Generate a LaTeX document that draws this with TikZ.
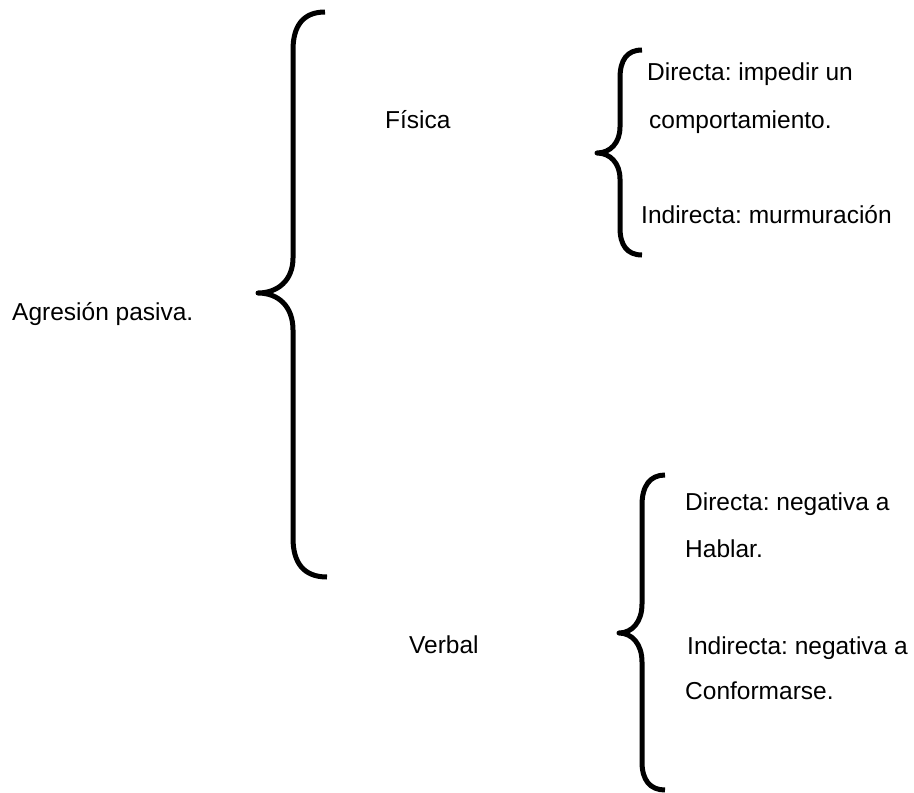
\documentclass[tikz,border=0pt]{standalone}
\usepackage{fontspec}
\setmainfont{Liberation Sans}
\frenchspacing
\begin{document}
\begin{tikzpicture}[x=1pt,y=-1pt,
  lbl/.style={anchor=base west,inner sep=0pt,font=\fontsize{24.5}{30}\selectfont\frenchspacing},
  bracepath/.style={line width=5pt,line join=round}]
\useasboundingbox (0,0) rectangle (914,793);
% main brace
\draw[bracepath] (325,12) .. controls (303,12) and (293,26) .. (293,50)
  -- (293,258) .. controls (293,280) and (278,293) .. (258,293)
  .. controls (278,293) and (293,306) .. (293,330)
  -- (293,538) .. controls (293,562) and (303,577) .. (327,577);
% upper small brace
\draw[bracepath] (642,50) .. controls (627,50) and (620,60) .. (620,78)
  -- (620,127) .. controls (620,143) and (610,153) .. (597,153)
  .. controls (610,153) and (620,163) .. (620,179)
  -- (620,228) .. controls (620,245) and (627,255) .. (642,255);
% lower small brace
\draw[bracepath] (665,475) .. controls (650,475) and (642,486) .. (642,505)
  -- (642,604) .. controls (642,622) and (632,633) .. (619,633)
  .. controls (632,633) and (642,644) .. (642,662)
  -- (642,762) .. controls (642,780) and (650,790) .. (665,790);
% texts
\node[lbl] (agr) at (12,320) {Agresión pasiva.};
\node[lbl] (fis) at (385,128) {Física};
\node[lbl] (dir1a) at (647,80) {Directa: impedir un};
\node[lbl] (dir1b) at (649,128) {comportamiento.};
\node[lbl] (ind1) at (641,223) {Indirecta: murmuración};
\node[lbl] (verb) at (409,653) {Verbal};
\node[lbl] (dir2a) at (685,510) {Directa: negativa a};
\node[lbl] (dir2b) at (685,557) {Hablar.};
\node[lbl] (ind2a) at (687,654) {Indirecta: negativa a};
\node[lbl] (ind2b) at (685,699) {Conformarse.};
\end{tikzpicture}
\end{document}
